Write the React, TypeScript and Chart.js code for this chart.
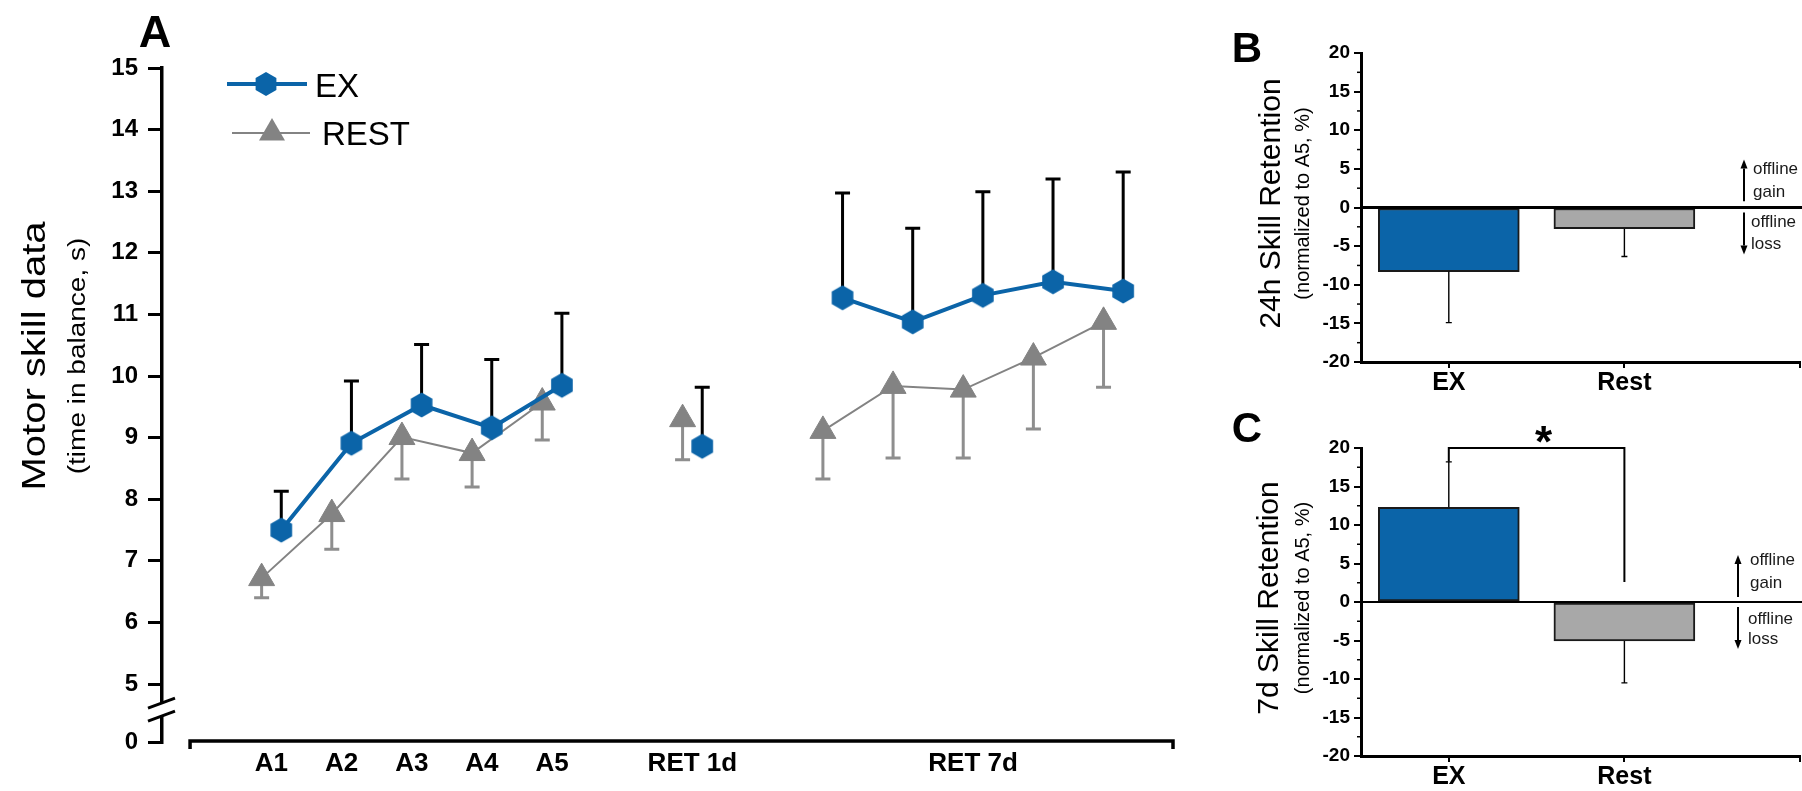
import React, { useEffect, useRef } from 'react';
import { Chart, registerables } from 'chart.js';

Chart.register(...registerables);

// ================= DATA =================
// Panel A – motor skill data (time in balance, s)
const SESSIONS = ['A1', 'A2', 'A3', 'A4', 'A5', 'RET 1d', 'RET 7d'];
const POINT_SESSION = [0, 1, 2, 3, 4, 5, 6, 6, 6, 6, 6];
const POINT_BLOCK = [0, 0, 0, 0, 0, 1, 2, 2, 2, 2, 2];
const POINT_X = [1, 2, 3, 4, 5, 7, 9, 10, 11, 12, 13];
const EX_MEAN = [7.5, 8.91, 9.53, 9.16, 9.85, 8.86, 11.27, 10.88, 11.31, 11.53, 11.38];
const EX_ERR_TOP = [8.13, 9.92, 10.51, 10.27, 11.02, 9.82, 12.97, 12.4, 12.99, 13.2, 13.31];
const REST_MEAN = [6.72, 7.76, 9.01, 8.75, 9.57, 9.3, 9.11, 9.84, 9.78, 10.3, 10.88];
const REST_ERR_BOTTOM = [6.4, 7.19, 8.33, 8.2, 8.96, 8.64, 8.33, 8.67, 8.67, 9.14, 9.82];
const SERIES_A = ['EX', 'REST'];
const Y_TICK_LABELS_A = [0, 5, 6, 7, 8, 9, 10, 11, 12, 13, 14, 15];

// Panels B & C – skill retention (normalized to A5, %)
const GROUPS = ['EX', 'Rest'];
const RET24_MEAN = [-8.3, -2.75];
const RET24_ERR = [-14.9, -6.35];
const RET7_MEAN = [12.3, -5.05];
const RET7_ERR = [18.2, -10.5];
const RET_TICKS = [-20, -15, -10, -5, 0, 5, 10, 15, 20];
const SIG_LEVEL = 20;
const SIG_RIGHT_END = 2.6;
const SIG_LABEL = '*';

// ================= STYLE / LAYOUT =================
const FONT = '"Liberation Sans", Arial, Helvetica, sans-serif';
const EX_BLUE = '#0b64a8';
const REST_GRAY = '#838383';
const REST_ERR_GRAY = '#8e8e8e';
const BAR_GRAY = '#a8a8a8';

const REST_OFFSET = -0.28;
const X_MIN_A = -0.7;
const X_MAX_A = 13.71;
const X_AXIS_START_A = -0.3;
const Y_MIN_A = 4.06; // position where the "0" of the broken axis sits
const Y_MAX_A = 15;
const Y_BREAK_A = 4.586;

function errorBar(ctx: any, x: number, yFrom: number, yTo: number, color: string, width: number, cap: number) {
  ctx.save();
  ctx.strokeStyle = color;
  ctx.lineWidth = width;
  ctx.beginPath();
  ctx.moveTo(x, yFrom);
  ctx.lineTo(x, yTo);
  ctx.moveTo(x - cap / 2, yTo);
  ctx.lineTo(x + cap / 2, yTo);
  ctx.stroke();
  ctx.restore();
}

function inkText(ctx: any, text: string, x: number, cy: number, font: string, align: string = 'center') {
  ctx.save();
  ctx.font = font;
  ctx.textAlign = align;
  ctx.textBaseline = 'alphabetic';
  ctx.fillStyle = '#000';
  const m = ctx.measureText(text);
  const base = cy + (m.actualBoundingBoxAscent - m.actualBoundingBoxDescent) / 2;
  ctx.fillText(text, x, base);
  ctx.restore();
}

function midText(ctx: any, text: string, x: number, cy: number, font: string, color = '#1a1a1a') {
  ctx.save();
  ctx.font = font;
  ctx.textAlign = 'left';
  ctx.textBaseline = 'middle';
  ctx.fillStyle = color;
  ctx.fillText(text, x, cy);
  ctx.restore();
}

function rotatedText(ctx: any, text: string, baseX: number, cy: number, font: string, squash: number) {
  ctx.save();
  ctx.translate(baseX, cy);
  ctx.rotate(-Math.PI / 2);
  ctx.scale(1, squash);
  ctx.font = font;
  ctx.textAlign = 'center';
  ctx.textBaseline = 'alphabetic';
  ctx.fillStyle = '#000';
  ctx.fillText(text, 0, 0);
  ctx.restore();
}

function arrow(ctx: any, x: number, yFrom: number, yTo: number) {
  const dir = Math.sign(yTo - yFrom);
  const head = 9;
  const hw = 3.5;
  ctx.save();
  ctx.strokeStyle = '#000';
  ctx.fillStyle = '#000';
  ctx.lineWidth = 2;
  ctx.beginPath();
  ctx.moveTo(x, yFrom);
  ctx.lineTo(x, yTo - dir * head);
  ctx.stroke();
  ctx.beginPath();
  ctx.moveTo(x, yTo);
  ctx.lineTo(x - hw, yTo - dir * head);
  ctx.lineTo(x + hw, yTo - dir * head);
  ctx.closePath();
  ctx.fill();
  ctx.restore();
}

function triangle(ctx: any, x: number, y: number, r: number, color: string) {
  ctx.save();
  ctx.fillStyle = color;
  ctx.beginPath();
  ctx.moveTo(x, y - r);
  ctx.lineTo(x + r * 0.866, y + r * 0.5);
  ctx.lineTo(x - r * 0.866, y + r * 0.5);
  ctx.closePath();
  ctx.fill();
  ctx.restore();
}

function makeHexagon(color: string, r: number) {
  const size = Math.ceil(r) * 2 + 2;
  const c = document.createElement('canvas');
  c.width = size;
  c.height = size;
  const g = c.getContext('2d') as any;
  g.fillStyle = color;
  g.beginPath();
  for (let k = 0; k < 6; k++) {
    const a = -Math.PI / 2 + (k * Math.PI) / 3;
    const px = size / 2 + r * Math.cos(a);
    const py = size / 2 + r * Math.sin(a);
    if (k === 0) g.moveTo(px, py);
    else g.lineTo(px, py);
  }
  g.closePath();
  g.fill();
  return c;
}

// ================= PANEL A =================
function buildPanelA() {
  const hex = makeHexagon(EX_BLUE, 12.5);
  const legendHex = makeHexagon(EX_BLUE, 12);
  const exData: any[] = [];
  const restData: any[] = [];
  POINT_X.forEach((px, i) => {
    if (i > 0 && POINT_BLOCK[i] !== POINT_BLOCK[i - 1]) {
      exData.push({ x: px - 0.5, y: null });
      restData.push({ x: px - 0.5 + REST_OFFSET, y: null });
    }
    exData.push({ x: px, y: EX_MEAN[i] });
    restData.push({ x: px + REST_OFFSET, y: REST_MEAN[i] });
  });
  const labelPos = SESSIONS.map((_, s) => {
    const xs = POINT_X.filter((__, i) => POINT_SESSION[i] === s);
    return (Math.min(...xs) + Math.max(...xs)) / 2 + REST_OFFSET / 2;
  });

  const plugin = {
    id: 'panelA',
    beforeDatasetsDraw(chart: any) {
      const { ctx, scales } = chart;
      const x = scales.x;
      const y = scales.y;
      POINT_X.forEach((px, i) => {
        errorBar(ctx, x.getPixelForValue(px + REST_OFFSET), y.getPixelForValue(REST_MEAN[i]), y.getPixelForValue(REST_ERR_BOTTOM[i]), REST_ERR_GRAY, 3, 15);
      });
      POINT_X.forEach((px, i) => {
        errorBar(ctx, x.getPixelForValue(px), y.getPixelForValue(EX_MEAN[i]), y.getPixelForValue(EX_ERR_TOP[i]), '#000', 3, 15);
      });
    },
    afterDraw(chart: any) {
      const { ctx, chartArea, scales } = chart;
      const x = scales.x;
      const y = scales.y;
      ctx.save();
      // x axis line (detached from y axis)
      const ax = chartArea.bottom - 1;
      const xs = x.getPixelForValue(X_AXIS_START_A);
      ctx.strokeStyle = '#000';
      ctx.lineWidth = 3.5;
      ctx.beginPath();
      ctx.moveTo(xs, ax + 8);
      ctx.lineTo(xs, ax);
      ctx.lineTo(chartArea.right, ax);
      ctx.lineTo(chartArea.right, ax + 8);
      ctx.stroke();
      // y axis break
      const yb = y.getPixelForValue(Y_BREAK_A);
      const l = chartArea.left;
      ctx.fillStyle = '#fff';
      ctx.fillRect(l - 3, yb - 6.5, 6, 13);
      ctx.lineWidth = 3;
      [-6.5, 6.5].forEach((dy) => {
        ctx.beginPath();
        ctx.moveTo(l - 14, yb + dy + 5);
        ctx.lineTo(l + 13, yb + dy - 5);
        ctx.stroke();
      });
      // legend
      ctx.lineWidth = 4;
      ctx.strokeStyle = EX_BLUE;
      ctx.beginPath();
      ctx.moveTo(227, 84);
      ctx.lineTo(307, 84);
      ctx.stroke();
      ctx.drawImage(legendHex, 266 - legendHex.width / 2, 84 - legendHex.height / 2);
      ctx.lineWidth = 2;
      ctx.strokeStyle = REST_GRAY;
      ctx.beginPath();
      ctx.moveTo(232, 133);
      ctx.lineTo(310, 133);
      ctx.stroke();
      triangle(ctx, 272, 133, 15, REST_GRAY);
      inkText(ctx, SERIES_A[0], 315, 85, `33px ${FONT}`, 'left');
      inkText(ctx, SERIES_A[1], 322, 133, `33px ${FONT}`, 'left');
      // panel letter & titles
      inkText(ctx, 'A', 155, 31, `bold 45px ${FONT}`);
      rotatedText(ctx, 'Motor skill data', 45, 356, `40px ${FONT}`, 0.85);
      rotatedText(ctx, '(time in balance, s)', 85, 356, `28px ${FONT}`, 0.88);
      ctx.restore();
    },
  };

  return {
    type: 'line',
    data: {
      datasets: [
        {
          label: SERIES_A[0],
          data: exData,
          borderColor: EX_BLUE,
          backgroundColor: EX_BLUE,
          borderWidth: 4,
          pointStyle: hex,
          pointRadius: 12,
          pointHoverRadius: 12,
          spanGaps: false,
          tension: 0,
        },
        {
          label: SERIES_A[1],
          data: restData,
          borderColor: REST_GRAY,
          backgroundColor: REST_GRAY,
          borderWidth: 2,
          pointStyle: 'triangle',
          pointRadius: 15,
          pointHoverRadius: 15,
          pointBackgroundColor: REST_GRAY,
          pointBorderColor: REST_GRAY,
          pointBorderWidth: 1,
          spanGaps: false,
          tension: 0,
        },
      ],
    },
    options: {
      animation: false,
      responsive: false,
      events: [],
      layout: { padding: { left: 0, top: 68, right: 27, bottom: 0 } },
      plugins: { legend: { display: false }, tooltip: { enabled: false } },
      scales: {
        x: {
          type: 'linear',
          min: X_MIN_A,
          max: X_MAX_A,
          afterFit: (s: any) => {
            s.height = 49;
          },
          afterBuildTicks: (s: any) => {
            s.ticks = labelPos.map((v) => ({ value: v }));
          },
          grid: { display: false, drawTicks: false },
          border: { display: false },
          ticks: {
            autoSkip: false,
            maxRotation: 0,
            padding: 6,
            color: '#000',
            font: { family: FONT, size: 26, weight: 'bold' },
            callback: (_v: any, i: number) => SESSIONS[i],
          },
        },
        y: {
          type: 'linear',
          min: Y_MIN_A,
          max: Y_MAX_A,
          afterFit: (s: any) => {
            s.width = 162;
          },
          afterBuildTicks: (s: any) => {
            s.ticks = Y_TICK_LABELS_A.map((v) => ({ value: v === 0 ? Y_MIN_A : v }));
          },
          grid: { display: true, drawOnChartArea: false, drawTicks: true, tickLength: 14, color: '#000', lineWidth: 3 },
          border: { display: true, color: '#000', width: 3.5 },
          ticks: {
            padding: 10,
            color: '#000',
            font: { family: FONT, size: 24, weight: 'bold' },
            callback: (_v: any, i: number) => String(Y_TICK_LABELS_A[i]),
          },
        },
      },
    },
    plugins: [plugin],
  };
}

// ================= PANELS B & C =================
function buildRetention(p: any, mean: number[], err: number[]) {
  const plugin = {
    id: 'retention' + p.letter,
    afterDatasetsDraw(chart: any) {
      const { ctx, chartArea, scales } = chart;
      const x = scales.x;
      const y = scales.y;
      ctx.save();
      const y0 = y.getPixelForValue(0);
      ctx.strokeStyle = '#000';
      ctx.lineWidth = p.zeroWidth;
      ctx.beginPath();
      ctx.moveTo(chartArea.left, y0);
      ctx.lineTo(chart.width, y0);
      ctx.stroke();
      GROUPS.forEach((_, i) => {
        errorBar(ctx, x.getPixelForValue(i + 1), y.getPixelForValue(mean[i]), y.getPixelForValue(err[i]), '#000', 1.4, 6);
      });
      if (p.bracket) {
        const xa = x.getPixelForValue(1);
        const xb = x.getPixelForValue(2);
        const yt = y.getPixelForValue(SIG_LEVEL);
        ctx.lineWidth = 2;
        ctx.strokeStyle = '#000';
        ctx.beginPath();
        ctx.moveTo(xa, y.getPixelForValue(err[0]));
        ctx.lineTo(xa, yt);
        ctx.lineTo(xb, yt);
        ctx.lineTo(xb, y.getPixelForValue(SIG_RIGHT_END));
        ctx.stroke();
        inkText(ctx, SIG_LABEL, x.getPixelForValue(1.54), yt - 14, `bold 44px ${FONT}`);
      }
      ctx.restore();
    },
    afterDraw(chart: any) {
      const { ctx, chartArea, scales } = chart;
      const y = scales.y;
      ctx.save();
      ctx.strokeStyle = '#000';
      ctx.lineWidth = 1.5;
      for (let v = -17.5; v < 20; v += 5) {
        const py = y.getPixelForValue(v);
        ctx.beginPath();
        ctx.moveTo(chartArea.left - 4, py);
        ctx.lineTo(chartArea.left, py);
        ctx.stroke();
      }
      inkText(ctx, p.letter, 67, p.letterY, `bold 42px ${FONT}`);
      const cy = (chartArea.top + chartArea.bottom) / 2 - 4;
      rotatedText(ctx, p.title, p.titleX, cy, `30px ${FONT}`, 1);
      rotatedText(ctx, '(normalized to A5, %)', 129, cy, `20px ${FONT}`, 1);
      const a = p.annot;
      arrow(ctx, a.arrowX, y.getPixelForValue(a.upFrom), y.getPixelForValue(a.upTo));
      arrow(ctx, a.arrowX, y.getPixelForValue(a.downFrom), y.getPixelForValue(a.downTo));
      const f = `17px ${FONT}`;
      midText(ctx, 'offline', a.textX, y.getPixelForValue(a.gain1), f);
      midText(ctx, 'gain', a.textX, y.getPixelForValue(a.gain2), f);
      midText(ctx, 'offline', a.textX - 2, y.getPixelForValue(a.loss1), f);
      midText(ctx, 'loss', a.textX - 2, y.getPixelForValue(a.loss2), f);
      ctx.restore();
    },
  };

  return {
    type: 'bar',
    data: {
      datasets: [
        {
          data: GROUPS.map((_, i) => ({ x: i + 1, y: mean[i] })),
          backgroundColor: [EX_BLUE, BAR_GRAY],
          borderColor: '#1a1a1a',
          borderWidth: 2,
          borderSkipped: false,
          barThickness: 141,
        },
      ],
    },
    options: {
      animation: false,
      responsive: false,
      events: [],
      layout: { padding: { top: p.padTop, right: 2, left: 0, bottom: 0 } },
      plugins: { legend: { display: false }, tooltip: { enabled: false } },
      scales: {
        x: {
          type: 'linear',
          min: 0.5,
          max: 3,
          offset: false,
          afterFit: (s: any) => {
            s.height = p.xHeight;
          },
          afterBuildTicks: (s: any) => {
            s.ticks = [...GROUPS.map((_, i) => ({ value: i + 1 })), { value: 3 }];
          },
          grid: { display: true, offset: false, drawOnChartArea: false, drawTicks: true, tickLength: 6, color: '#000', lineWidth: 2 },
          border: { display: true, color: '#000', width: 3 },
          ticks: {
            autoSkip: false,
            maxRotation: 0,
            padding: 0,
            color: '#000',
            font: { family: FONT, size: 25, weight: 'bold' },
            callback: (_v: any, i: number) => GROUPS[i] ?? '',
          },
        },
        y: {
          type: 'linear',
          min: -20,
          max: 20,
          afterFit: (s: any) => {
            s.width = 181;
          },
          afterBuildTicks: (s: any) => {
            s.ticks = RET_TICKS.map((v) => ({ value: v }));
          },
          grid: { display: true, drawOnChartArea: false, drawTicks: true, tickLength: 7, color: '#000', lineWidth: 2 },
          border: { display: true, color: '#000', width: 3 },
          ticks: {
            padding: 4,
            color: '#000',
            font: { family: FONT, size: 19, weight: 'bold' },
          },
        },
      },
    },
    plugins: [plugin],
  };
}

const PANEL_B = {
  letter: 'B',
  letterY: 47,
  title: '24h Skill Retention',
  titleX: 100,
  padTop: 53,
  xHeight: 38,
  zeroWidth: 3,
  bracket: false,
  annot: { arrowX: 564, textX: 573, upFrom: 0.8, upTo: 6.2, downFrom: -0.65, downTo: -6.1, gain1: 4.9, gain2: 1.95, loss1: -1.95, loss2: -4.8 },
};

const PANEL_C = {
  letter: 'C',
  letterY: 27,
  title: '7d Skill Retention',
  titleX: 98,
  padTop: 48,
  xHeight: 35,
  zeroWidth: 2,
  bracket: true,
  annot: { arrowX: 558, textX: 570, upFrom: 0.65, upTo: 6.1, downFrom: -0.65, downTo: -6.1, gain1: 5.45, gain2: 2.47, loss1: -2.2, loss2: -4.9 },
};

export default function App() {
  const refA = useRef<HTMLCanvasElement>(null);
  const refB = useRef<HTMLCanvasElement>(null);
  const refC = useRef<HTMLCanvasElement>(null);

  useEffect(() => {
    const charts = [
      new Chart(refA.current as any, buildPanelA() as any),
      new Chart(refB.current as any, buildRetention(PANEL_B, RET24_MEAN, RET24_ERR) as any),
      new Chart(refC.current as any, buildRetention(PANEL_C, RET7_MEAN, RET7_ERR) as any),
    ];
    return () => charts.forEach((c) => c.destroy());
  }, []);

  return (
    <div style={{ position: 'fixed', left: 0, top: 0, width: 1802, height: 791, background: '#fff', overflow: 'hidden' }}>
      <canvas ref={refA} width={1200} height={791} style={{ position: 'absolute', left: 0, top: 0, width: 1200, height: 791 }} />
      <canvas ref={refB} width={622} height={400} style={{ position: 'absolute', left: 1180, top: 0, width: 622, height: 400 }} />
      <canvas ref={refC} width={622} height={391} style={{ position: 'absolute', left: 1180, top: 400, width: 622, height: 391 }} />
    </div>
  );
}
